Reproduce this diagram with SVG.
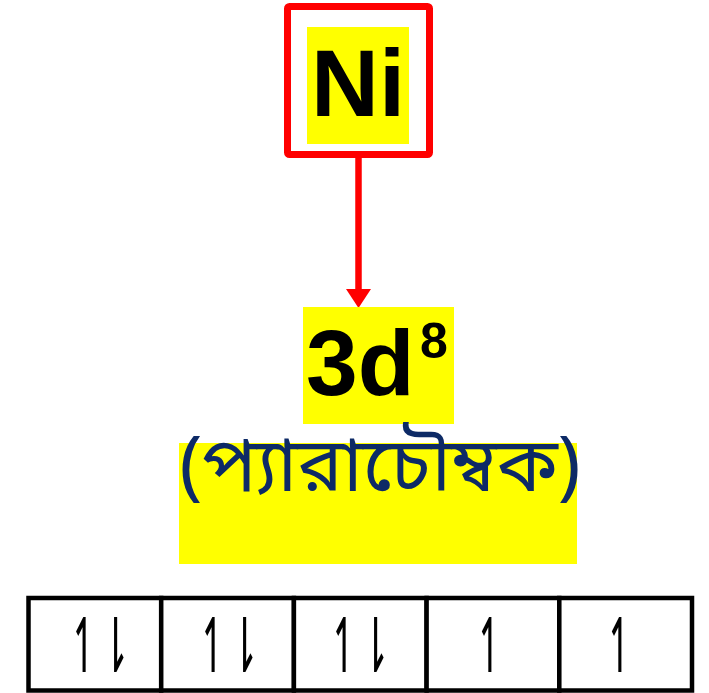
<svg xmlns="http://www.w3.org/2000/svg" width="709" height="693" viewBox="0 0 709 693">
<style>
.hl{fill:#ffff00}
.big{font-family:"Liberation Sans",Arial,sans-serif;font-weight:bold;fill:#000}
.bn{font-family:"Noto Sans Bengali","Noto Sans","Lohit Bengali",sans-serif;font-weight:normal;fill:#0d2a66}
.box{fill:#fff;stroke:#000;stroke-width:4.5}
.sp{font-family:"DejaVu Sans",sans-serif;font-size:30px;fill:#000;text-anchor:middle}
</style>
<rect width="709" height="693" fill="#fff"/>
<g id="connectors">
<line x1="358.5" y1="158" x2="358.5" y2="292" stroke="#ff0000" stroke-width="6.5"/>
<path d="M346,289 L371,289 L358.5,308 z" fill="#ff0000"/>
</g>
<g id="ni">
<rect x="287.5" y="6.5" width="142" height="148" rx="2" fill="#fff" stroke="#ff0000" stroke-width="7"/>
<rect class="hl" x="307" y="27" width="102" height="117"/>
<text class="big" x="358" y="116" font-size="94" text-anchor="middle">Ni</text>
</g>
<g id="config">
<rect class="hl" x="303" y="307" width="151" height="117"/>
<text class="big" x="306" y="395" font-size="93">3d</text>
<text class="big" x="420" y="358" font-size="50">8</text>
</g>
<g id="label">
<rect class="hl" x="179" y="443" width="398" height="121"/>
<text class="bn" x="380" y="491" font-size="76" text-anchor="middle">(প্যারাচৌম্বক)</text>
</g>
<g id="orbitals">
<rect class="box" x="28.5" y="598" width="132.7" height="92.5"/>
<rect class="box" x="161.2" y="598" width="132.7" height="92.5"/>
<rect class="box" x="293.9" y="598" width="132.7" height="92.5"/>
<rect class="box" x="426.6" y="598" width="132.7" height="92.5"/>
<rect class="box" x="559.3" y="598" width="132.7" height="92.5"/>
<text class="sp" transform="translate(100,672) scale(1.25,2.5)">↿⇂</text>
<text class="sp" transform="translate(229,672) scale(1.25,2.5)">↿⇂</text>
<text class="sp" transform="translate(360,672) scale(1.25,2.5)">↿⇂</text>
<text class="sp" transform="translate(490,672) scale(1.25,2.5)">↿</text>
<text class="sp" transform="translate(620,672) scale(1.25,2.5)">↿</text>
</g>
</svg>
